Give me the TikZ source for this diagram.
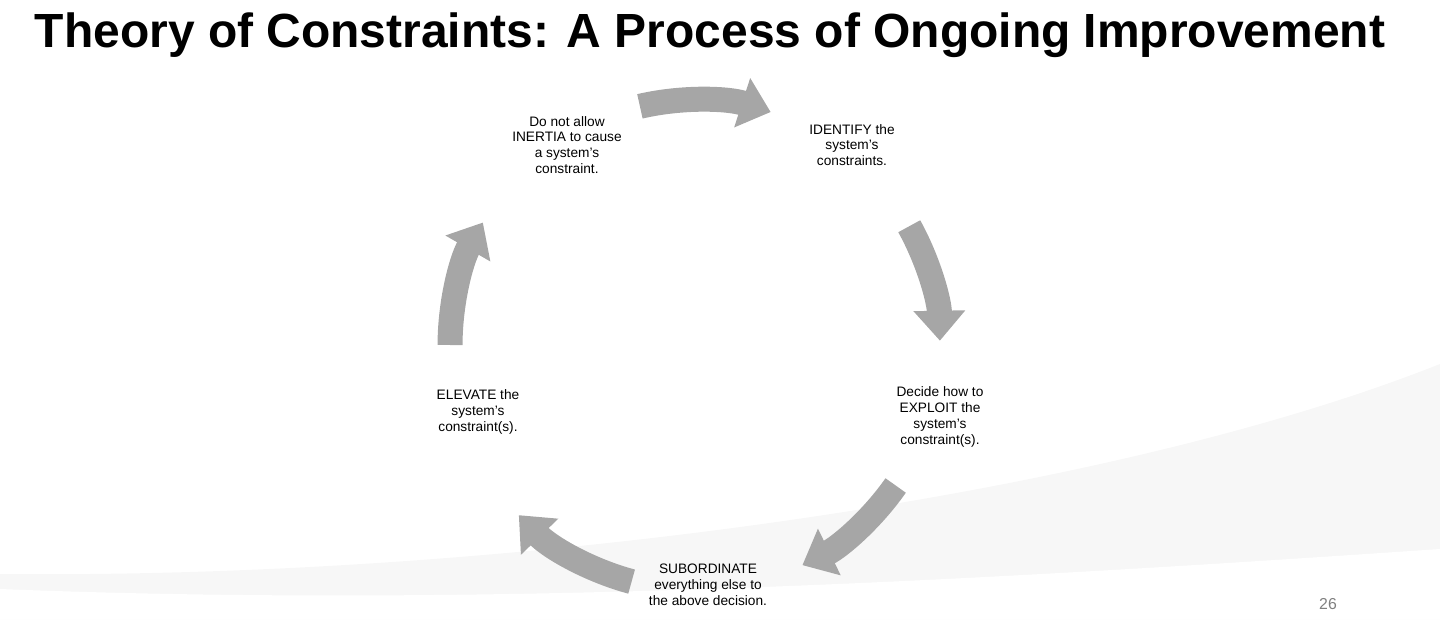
\documentclass[tikz,border=0pt]{standalone}
\usepackage{fontspec}
\setmainfont{Liberation Sans}
\usetikzlibrary{arrows.meta,calc}
\definecolor{arcgray}{HTML}{A6A6A6}
\tikzset{step text/.style={align=center, font=\fontsize{7.8}{9}\selectfont, inner sep=1pt},
  cycarrow/.style={draw=arcgray, line width=0.5cm, -{Triangle[width=1.0cm,length=0.6cm]}}
}
\begin{document}
\begin{tikzpicture}[x=0.02cm,y=0.02cm]
   \useasboundingbox (0,0) rectangle (1440,619);
   %background swoosh
   \fill[gray!6] (0,45) .. controls (500,40) and (1100,120) .. (1440,255) -- (1440,0) -- (0,0) -- cycle;
   \fill[white] (0,30) .. controls (500,10) and (1000,40) .. (1440,70) -- (1440,0) -- (0,0) -- cycle;

   %title
   \node (title) at (710,584) {\fontsize{27.3}{31}\selectfont\bfseries Theory of Constraints: A Process of Ongoing Improvement};

   %steps
   \node (identify) [step text] at (852,474) {IDENTIFY the\\system's\\constraints.};
   \node (exploit) [step text] at (940,202) {Decide how to\\EXPLOIT the\\system's\\constraint(s).};
   \node (subord) [step text] at (708,34) {SUBORDINATE\\everything else to\\the above decision.};
   \node (elevate) [step text] at (478,207) {ELEVATE the\\system's\\constraint(s).};
   \node (inertia) [step text] at (567,474) {Do not allow\\INERTIA to cause\\a system's\\constraint.};

   %cycle arrows
   \coordinate (center) at (695,274);
   \draw[cycarrow] ($(center)+(103:4.9cm)$) arc (103:72:4.9cm);
   \draw[cycarrow] ($(center)+(29:4.9cm)$) arc (29:1:4.9cm);
   \draw[cycarrow] ($(center)+(-35:4.9cm)$) arc (-35:-64:4.9cm);
   \draw[cycarrow] ($(center)+(-105:4.9cm)$) arc (-105:-136:4.9cm);
   \draw[cycarrow] ($(center)+(180:4.9cm)$) arc (180:150:4.9cm);

   %page number
   \node (page) [text=gray, font=\fontsize{9}{10}\selectfont] at (1328,15) {26};
\end{tikzpicture}
\end{document}
